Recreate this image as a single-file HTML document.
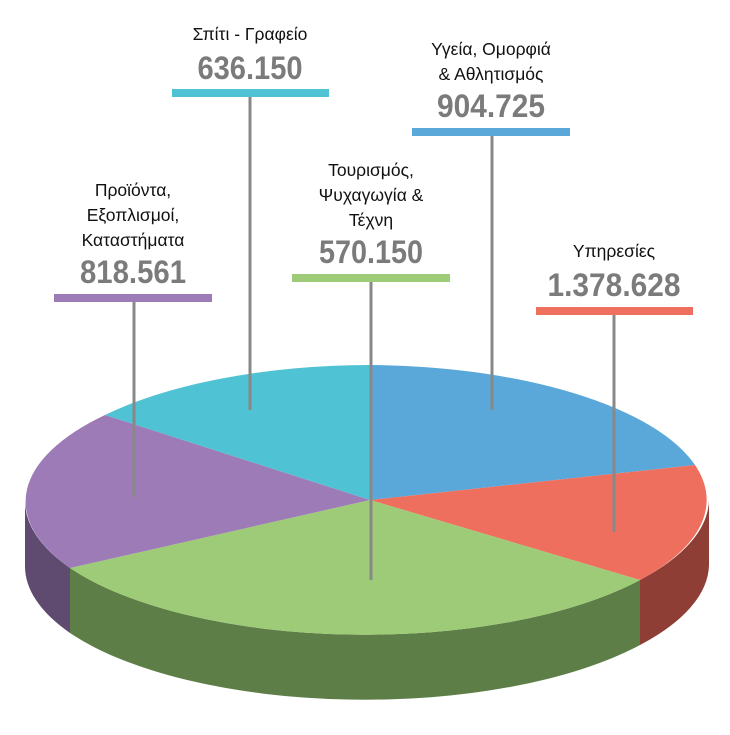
<!DOCTYPE html>
<html><head><meta charset="utf-8"><style>
html,body{margin:0;padding:0;background:#fff;}
svg text{font-family:"Liberation Sans","DejaVu Sans",sans-serif;}
.l{font-size:17.5px;fill:#111;text-anchor:middle;}
.n{font-size:32px;font-weight:bold;fill:#7b7b7b;text-anchor:middle;}
</style></head><body>
<svg width="730" height="730" viewBox="0 0 730 730" xmlns="http://www.w3.org/2000/svg">
<path d="M25,500 A342,135 0 0 0 70,568 L70,633 A342,135 0 0 1 25,565 Z" fill="#5f4a70"/>
<path d="M70,568 A342,135 0 0 0 640,580 L640,645 A342,135 0 0 1 70,633 Z" fill="#5e7e48"/>
<path d="M640,580 A342,135 0 0 0 709,500 L709,565 A342,135 0 0 1 640,645 Z" fill="#8e3e35"/>
<path d="M370,500 L370,365 A342,135 0 0 1 695,465 Z" fill="#5aa8da"/>
<path d="M370,500 L695,465 A342,135 0 0 1 640,580 Z" fill="#ee6f5e"/>
<path d="M370,500 L640,580 A342,135 0 0 1 70,568 Z" fill="#9ecb77"/>
<path d="M370,500 L70,568 A342,135 0 0 1 105,415 Z" fill="#9d7bb6"/>
<path d="M370,500 L105,415 A342,135 0 0 1 370,365 Z" fill="#4fc2d3"/>
<g stroke="#888" stroke-width="3">
<line x1="250" y1="96" x2="250" y2="410"/>
<line x1="492" y1="135" x2="492" y2="410"/>
<line x1="371" y1="281" x2="371" y2="580"/>
<line x1="134" y1="301" x2="134" y2="497"/>
<line x1="614" y1="314" x2="614" y2="532"/>
</g>
<rect x="172" y="89" width="157" height="8" fill="#4fc2d3"/>
<rect x="412" y="128" width="158" height="8" fill="#5aa8da"/>
<rect x="292" y="274" width="158" height="8" fill="#9ecb77"/>
<rect x="54" y="294" width="158" height="8" fill="#9d7bb6"/>
<rect x="536" y="307" width="157" height="8" fill="#ee6f5e"/>
<text class="l" x="250" y="40">Σπίτι - Γραφείο</text>
<text class="n" x="250" y="79" textLength="105" lengthAdjust="spacingAndGlyphs">636.150</text>
<text class="l" x="491" y="55">Υγεία, Ομορφιά</text>
<text class="l" x="491" y="80">&amp; Αθλητισμός</text>
<text class="n" x="491" y="117" textLength="108" lengthAdjust="spacingAndGlyphs">904.725</text>
<text class="l" x="371" y="176">Τουρισμός,</text>
<text class="l" x="371" y="201">Ψυχαγωγία &amp;</text>
<text class="l" x="371" y="226">Τέχνη</text>
<text class="n" x="371" y="263" textLength="104" lengthAdjust="spacingAndGlyphs">570.150</text>
<text class="l" x="133" y="196">Προϊόντα,</text>
<text class="l" x="133" y="221">Εξοπλισμοί,</text>
<text class="l" x="133" y="246">Καταστήματα</text>
<text class="n" x="133" y="283" textLength="106" lengthAdjust="spacingAndGlyphs">818.561</text>
<text class="l" x="614" y="257">Υπηρεσίες</text>
<text class="n" x="614" y="296" textLength="133" lengthAdjust="spacingAndGlyphs">1.378.628</text>
</svg>
</body></html>
